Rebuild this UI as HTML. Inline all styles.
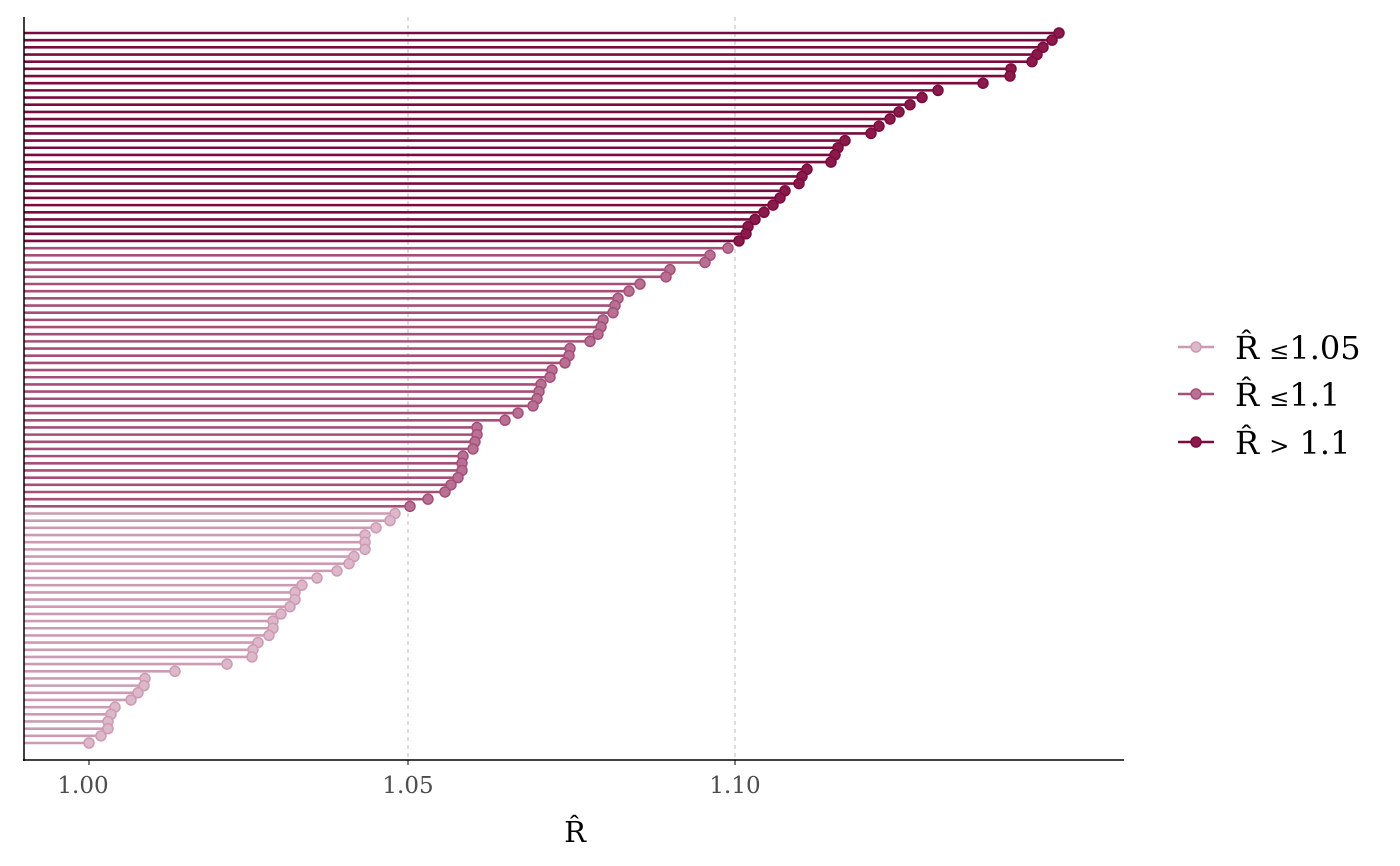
<!DOCTYPE html>
<html><head><meta charset="utf-8"><style>
html,body{margin:0;padding:0;background:#fff;width:1400px;height:866px;overflow:hidden}
svg text{font-family:"DejaVu Serif","Liberation Serif",serif}
</style></head><body>
<svg id="s" width="1400" height="866" viewBox="0 0 1400 866" xmlns="http://www.w3.org/2000/svg">
<line x1="408" y1="17" x2="408" y2="760" stroke="#bbb" stroke-width="1" stroke-dasharray="4,4"/>
<line x1="735" y1="17" x2="735" y2="760" stroke="#bbb" stroke-width="1" stroke-dasharray="4,4"/>
<g id="g"></g>
<line x1="24" y1="17" x2="24" y2="761" stroke="#000" stroke-width="1.5"/>
<line x1="23" y1="760" x2="1124" y2="760" stroke="#000" stroke-width="1.5"/>
<line x1="89" y1="760" x2="89" y2="765" stroke="#000"/>
<line x1="408" y1="760" x2="408" y2="765" stroke="#000"/>
<line x1="735" y1="760" x2="735" y2="765" stroke="#000"/>
<text x="83" y="793" font-size="23" fill="#4d4d4d" text-anchor="middle">1.00</text>
<text x="408" y="793" font-size="23" fill="#4d4d4d" text-anchor="middle">1.05</text>
<text x="735" y="793" font-size="23" fill="#4d4d4d" text-anchor="middle">1.10</text>
<text x="575" y="842" font-size="29" fill="#000" text-anchor="middle">R̂</text>
<line x1="1178" y1="347" x2="1214" y2="347" stroke="#cc9bb3" stroke-width="2.5"/>
<circle cx="1196" cy="347" r="5" fill="#dcb8ca" stroke="#cc9bb3" stroke-width="1.5"/>
<line x1="1178" y1="394" x2="1214" y2="394" stroke="#a54f78" stroke-width="2.5"/>
<circle cx="1196" cy="394" r="5" fill="#b87093" stroke="#a54f78" stroke-width="1.5"/>
<line x1="1178" y1="442" x2="1214" y2="442" stroke="#7a0b3f" stroke-width="2.5"/>
<circle cx="1196" cy="442" r="5" fill="#8b1a4b" stroke="#7a0b3f" stroke-width="1.5"/>
<text x="1235" y="359" font-size="32" fill="#000">R̂ <tspan font-size="24">≤</tspan>1.05</text>
<text x="1235" y="406" font-size="32" fill="#000">R̂ <tspan font-size="24">≤</tspan>1.1</text>
<text x="1235" y="454" font-size="32" fill="#000">R̂ <tspan font-size="24">&gt;</tspan> 1.1</text>
</svg>
<script>
var xs=[1059,1052,1043,1037,1032,1011,1010,983,938,922,910,899,890,879,871,845,838,835,831,807,802,799,785,780,773,764,755,748,746,739,728,710,705,670,666,640,629,618,615,613,603,601,598,590,570,569,565,552,550,541,539,537,533,518,505,477,477,475,473,463,462,462,458,451,445,428,410,395,390,376,365,365,365,354,349,337,317,302,295,295,290,281,273,273,269,258,253,252,227,175,145,144,138,131,115,111,108,108,101,89];
var g=document.getElementById('g'),h='';
var n=xs.length,step=(743-33)/(n-1);
for(var i=0;i<n;i++){var x=xs[i],y=33+i*step,c,f;
if(x>736){c='#7a0b3f';f='#8b1a4b';}else if(x>409){c='#a54f78';f='#b87093';}else{c='#cc9bb3';f='#dcb8ca';}
h+='<line x1="24" y1="'+y+'" x2="'+x+'" y2="'+y+'" stroke="'+c+'" stroke-width="2.6"/>';
h+='<circle cx="'+x+'" cy="'+y+'" r="5" fill="'+f+'" stroke="'+c+'" stroke-width="1.5"/>';}
g.innerHTML=h;
</script>
</body></html>
